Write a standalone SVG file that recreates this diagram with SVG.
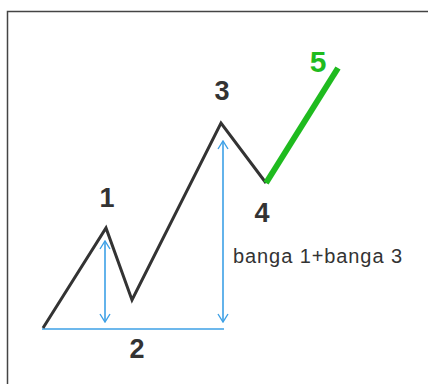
<svg xmlns="http://www.w3.org/2000/svg" width="428" height="384" viewBox="0 0 428 384">
<style>
.lbl{font-family:"Liberation Sans",Arial,sans-serif;font-weight:bold;font-size:27px;text-anchor:middle;fill:#333}
.blue{stroke:#3da0e6;stroke-width:1.6;fill:none}
.wave{stroke:#333;stroke-width:3;fill:none;stroke-linejoin:miter}
</style>
<defs>
<marker id="ah" viewBox="0 0 12 12" refX="11" refY="6" markerWidth="12" markerHeight="12" markerUnits="userSpaceOnUse" orient="auto-start-reverse">
<path d="M3,1 L11,6 L3,11" fill="none" stroke="#3da0e6" stroke-width="1.4"/>
</marker>
</defs>
<rect width="428" height="384" fill="#fff"/>
<path d="M7.5,384 V11.5 H428" fill="none" stroke="#444" stroke-width="1.5"/>
<g id="connectors">
<line class="blue" x1="42" y1="329" x2="224" y2="329"/>
<line class="blue" x1="105" y1="241" x2="105" y2="322" marker-start="url(#ah)" marker-end="url(#ah)"/>
<line class="blue" x1="223" y1="141" x2="223" y2="322" marker-start="url(#ah)" marker-end="url(#ah)"/>
<polyline class="wave" points="43,328 106,228 132,300 221,123 266,183"/>
<line x1="266" y1="183" x2="338" y2="68" stroke="#1fbb1f" stroke-width="6"/>
</g>
<g id="n1"><text class="lbl" x="107" y="207">1</text></g>
<g id="n2"><text class="lbl" x="137" y="358">2</text></g>
<g id="n3"><text class="lbl" x="222" y="100">3</text></g>
<g id="n4"><text class="lbl" x="262" y="222">4</text></g>
<g id="n5"><text class="lbl" x="318" y="72" style="fill:#1fbb1f;font-size:30px">5</text></g>
<g id="note"><text x="233" y="263" font-family="'Liberation Sans',Arial,sans-serif" font-size="20" fill="#333" textLength="169" lengthAdjust="spacing">banga 1+banga 3</text></g>
</svg>
